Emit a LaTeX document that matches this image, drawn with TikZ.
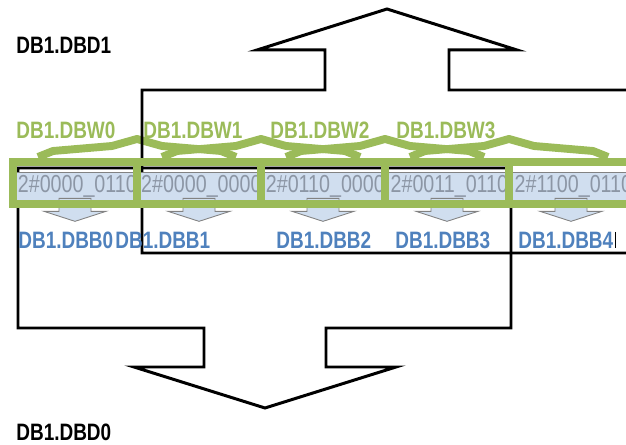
\documentclass[tikz,border=0pt]{standalone}
\usepackage{fontspec}
\setmainfont{Liberation Sans}
\newfontfamily\narrowfont[FakeStretch=0.8]{Liberation Sans}
\newfontfamily\narrowbold[FakeStretch=0.8]{Liberation Sans Bold}
\usetikzlibrary{calc}
\definecolor{wordgreen}{RGB}{155,187,89}
\definecolor{byteblue}{RGB}{79,129,189}
\definecolor{cellfill}{RGB}{208,222,239}
\definecolor{celltext}{RGB}{140,150,165}
\definecolor{tipgray}{RGB}{130,130,130}

\tikzset{
  blockline/.style={draw=black, line width=1.7pt, line join=miter},
  wordframe/.style={draw=wordgreen, line width=4.5pt},
  wordroof/.style={draw=wordgreen, line width=4.5pt, line join=round},
  bytecell/.style={fill=cellfill, minimum width=2.48cm, minimum height=0.54cm, inner sep=0pt},
  bytetext/.style={anchor=west, inner sep=0pt, text=celltext, font=\fontsize{14}{16}\narrowfont},
  bytetip/.style={fill=cellfill, draw=tipgray, line width=0.5pt},
  dwordlabel/.style={anchor=west, inner sep=0pt, font=\fontsize{13.5}{15}\narrowbold},
  wordlabel/.style={dwordlabel, text=wordgreen},
  bytelabel/.style={dwordlabel, text=byteblue},
}

\begin{document}
\begin{tikzpicture}[x=0.02cm, y=-0.02cm]
  \useasboundingbox (0,0) rectangle (626,445);
  \clip (0,0) rectangle (626,445);
  % word roofs
  \foreach \i in {0,...,3}
    \draw[wordroof] ({38+124*\i},157) -- ({53+124*\i},151) -- ({112+124*\i},146)
      -- ({137+124*\i},139) -- ({162+124*\i},146) -- ({221+124*\i},151) -- ({236+124*\i},157);
  % DBD1 (up) and DBD0 (down)
  \draw[blockline] (640,90) -- (449,90) -- (449,50) -- (517,50) -- (387,9) -- (257,50)
    -- (325,50) -- (325,90) -- (142,90) -- (142,253) -- (640,253);
  \draw[blockline] (18,168) -- (511,168) -- (511,328) -- (326,328) -- (326,367) -- (396,367)
    -- (265,408) -- (134,367) -- (204,367) -- (204,328) -- (18,328) -- cycle;
  \node[dwordlabel] (dw1) at (16,45) {DB1.DBD1};
  \node[dwordlabel] (dw0) at (16,432) {DB1.DBD0};
  % bytes
  \foreach \v [count=\i from 0] in {0000\_0110,0000\_0000,0110\_0000,0011\_0110,1100\_0110} {
    \node[bytecell, path picture={
        \node[bytetext] at ([xshift=0.04cm]path picture bounding box.west) {2\#\v};}]
      (c\i) at ({75+124*\i},186.5) {};
    \draw[tipgray, line width=0.6pt] (c\i.north west) -- (c\i.north east);
    \draw[bytetip] ($(c\i.south)+(-16,-2)$) -- ++(0,13) -- ++(-15,0) -- ($(c\i.south)+(0,21)$)
      -- ++(31,-10) -- ++(-15,0) -- ++(0,-13) -- cycle;
  }
  % words
  \foreach \i in {0,...,3}
    \draw[wordframe] ({13+124*\i},162) rectangle ({13+124*(\i+2)},204);
  \node[wordlabel] (w0) at (16,130) {DB1.DBW0};
  \node[wordlabel] (w1) at (143,130) {DB1.DBW1};
  \node[wordlabel] (w2) at (270,130) {DB1.DBW2};
  \node[wordlabel] (w3) at (396,130) {DB1.DBW3};
  \node[bytelabel] (bb0) at (18,240) {DB1.DBB0};
  \node[bytelabel] (bb1) at (115,240) {DB1.DBB1};
  \node[bytelabel] (bb2) at (276,240) {DB1.DBB2};
  \node[bytelabel] (bb3) at (395,240) {DB1.DBB3};
  \node[bytelabel] (bb4) at (518,240) {DB1.DBB4};
  \draw[line width=0.6pt] ($(bb4.east)+(2,-8)$) -- ($(bb4.east)+(2,8)$);
\end{tikzpicture}
\end{document}
